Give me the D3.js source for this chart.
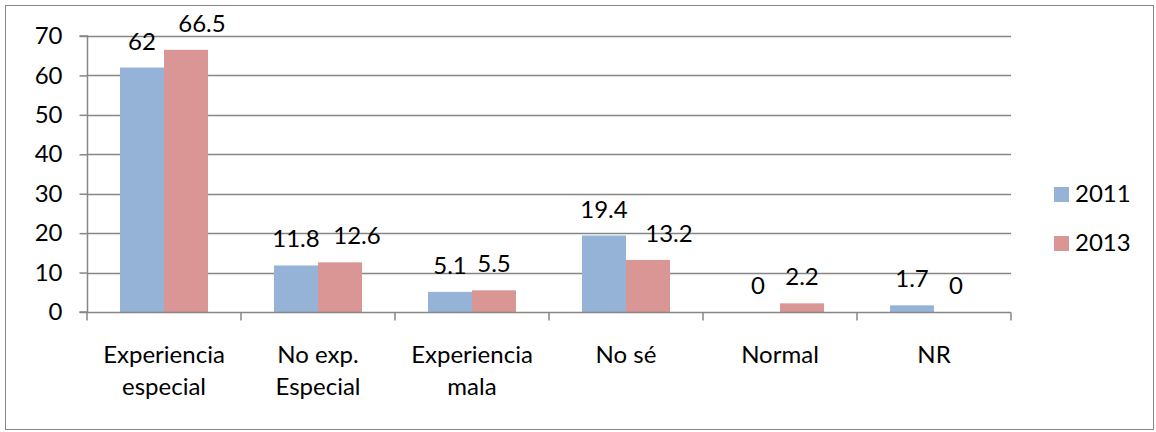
<!DOCTYPE html>
<html>
<head>
<meta charset="utf-8">
<script src="https://cdn.jsdelivr.net/npm/d3@7"></script>
<style>
  body { margin: 0; background: #fff; }
  svg { display: block; font-family: Lato, "Open Sans", sans-serif; }
</style>
</head>
<body>
<svg id="svg" width="1156" height="432"></svg>
<script>
// data
var categories = [["Experiencia", "especial"], ["No exp.", "Especial"], ["Experiencia", "mala"], ["No sé"], ["Normal"], ["NR"]];
var series = ["2011", "2013"];
var values2011 = [62, 11.8, 5.1, 19.4, 0, 1.7];
var values2013 = [66.5, 12.6, 5.5, 13.2, 2.2, 0];
var yTicks = [0, 10, 20, 30, 40, 50, 60, 70];
var colors = ["#95b3d7", "#d99694"];

var svg = d3.select('svg');
var fontSize = 24;
var margin = {left: 87, right: 1011, top: 36, bottom: 312};

// label nudges (some labels were dragged in the original)
var labelDx = [[0, 0, 0, 0, 0, 0], [16, 17, 0, 21, 0, 0]];

var x = d3.scaleBand()
  .domain(d3.range(categories.length))
  .range([margin.left, margin.right])
  .paddingInner(0).paddingOuter(0);

var xInner = d3.scaleBand()
  .domain(series)
  .range([0, x.bandwidth()])
  .paddingInner(0).paddingOuter(0.75);

var y = d3.scaleLinear().domain([0, 70]).range([margin.bottom, margin.top]);

// outer frame
svg.append('rect')
  .attr('x', 5.5).attr('y', 5.5)
  .attr('width', 1148).attr('height', 424)
  .attr('fill', 'none').attr('stroke', '#868686').attr('stroke-width', 1);

// gridlines
svg.append('g').selectAll('line').data(yTicks.filter(function(d) { return d > 0; })).enter()
  .append('line')
  .attr('x1', margin.left).attr('x2', margin.right)
  .attr('y1', function(d) { return Math.round(y(d)) + 0.5; })
  .attr('y2', function(d) { return Math.round(y(d)) + 0.5; })
  .attr('stroke', '#868686').attr('stroke-width', 1.5);

// bars
var data = [values2011, values2013];
data.forEach(function(vals, si) {
  svg.append('g').selectAll('rect').data(vals).enter()
    .append('rect')
    .attr('x', function(d, i) { return x(i) + xInner(series[si]); })
    .attr('width', xInner.bandwidth())
    .attr('y', function(d) { return y(d); })
    .attr('height', function(d) { return y(0) - y(d); })
    .attr('fill', colors[si]);

  svg.append('g').selectAll('text').data(vals).enter()
    .append('text')
    .attr('x', function(d, i) { return x(i) + xInner(series[si]) + xInner.bandwidth() / 2 + labelDx[si][i]; })
    .attr('y', function(d) { return y(d) - 18; })
    .attr('text-anchor', 'middle')
    .attr('font-size', fontSize)
    .attr('fill', '#000')
    .text(function(d) { return d; });
});

// y axis
var yAxis = d3.axisLeft(y).tickValues(yTicks).tickSize(8).tickPadding(17);
var gy = svg.append('g').attr('transform', 'translate(' + (margin.left + 0.5) + ',0)').call(yAxis);
gy.select('.domain').attr('stroke', '#868686').attr('stroke-width', 1.5).attr('d', 'M-8,' + y(0) + 'H0V' + y(70) + 'H-8');
gy.selectAll('.tick line').attr('stroke', '#868686').attr('stroke-width', 1.5);
gy.selectAll('.tick text').attr('font-size', fontSize).attr('font-family', 'Lato, "Open Sans", sans-serif').attr('fill', '#000');

// x axis
var xAxis = d3.axisBottom(x).tickSize(0).tickFormat('');
var gx = svg.append('g').attr('transform', 'translate(0,' + (Math.round(y(0)) + 0.5) + ')').call(xAxis);
gx.select('.domain').attr('stroke', '#868686').attr('stroke-width', 1.5).attr('d', 'M' + margin.left + ',0H' + margin.right);
gx.selectAll('.tick').remove();
var bounds = d3.range(categories.length + 1).map(function(i) { return margin.left + i * x.step(); });
gx.selectAll('line.sep').data(bounds).enter()
  .append('line').attr('class', 'sep')
  .attr('x1', function(d) { return d; }).attr('x2', function(d) { return d; })
  .attr('y1', 0).attr('y2', 8)
  .attr('stroke', '#868686').attr('stroke-width', 1.5);

var catLabels = svg.append('g').selectAll('text').data(categories).enter()
  .append('text')
  .attr('x', function(d, i) { return x(i) + x.bandwidth() / 2; })
  .attr('y', 363)
  .attr('text-anchor', 'middle')
  .attr('font-size', fontSize)
  .attr('fill', '#000');
catLabels.selectAll('tspan').data(function(d) { return d; }).enter()
  .append('tspan')
  .attr('x', function() { return d3.select(this.parentNode).attr('x'); })
  .attr('dy', function(d, i) { return i === 0 ? 0 : 32; })
  .text(function(d) { return d; });

// legend
var legend = svg.append('g').selectAll('g').data(series).enter()
  .append('g')
  .attr('transform', function(d, i) { return 'translate(1054,' + (187 + i * 49) + ')'; });
legend.append('rect').attr('width', 15).attr('height', 15)
  .attr('fill', function(d, i) { return colors[i]; });
legend.append('text').attr('x', 21).attr('y', 15)
  .attr('font-size', fontSize).attr('fill', '#000')
  .text(function(d) { return d; });
</script>
</body>
</html>
